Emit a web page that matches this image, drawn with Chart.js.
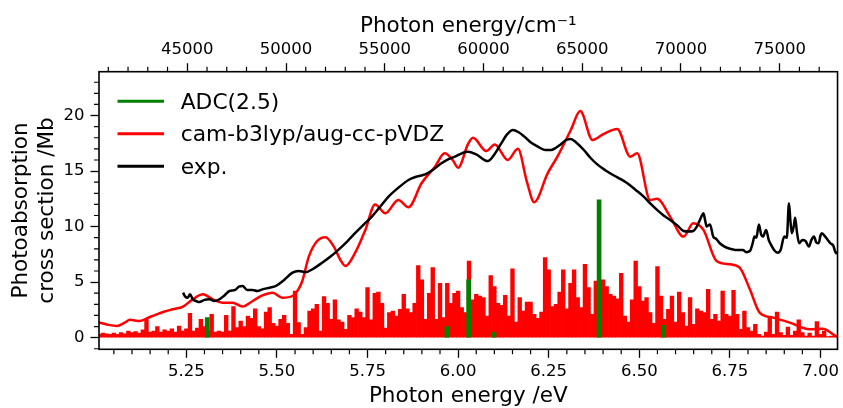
<!DOCTYPE html>
<html>
<head>
<meta charset="utf-8">
<script src="https://cdn.jsdelivr.net/npm/chart.js@4.4.1/dist/chart.umd.min.js"></script>
<style>
  html, body { margin: 0; padding: 0; background: #fff; }
</style>
</head>
<body>
<canvas id="spectrum" width="843" height="408"></canvas>
<script>
// stick spectrum (cam-b3lyp), every 0.01 eV
const stickEnergy = [
  5.01, 5.02, 5.03, 5.04, 5.05, 5.06, 5.07, 5.08, 5.09, 5.10,
  5.11, 5.12, 5.13, 5.14, 5.15, 5.16, 5.17, 5.18, 5.19, 5.20,
  5.21, 5.22, 5.23, 5.24, 5.25, 5.26, 5.27, 5.28, 5.29, 5.30,
  5.31, 5.32, 5.33, 5.34, 5.35, 5.36, 5.37, 5.38, 5.39, 5.40,
  5.41, 5.42, 5.43, 5.44, 5.45, 5.46, 5.47, 5.48, 5.49, 5.50,
  5.51, 5.52, 5.53, 5.54, 5.55, 5.56, 5.57, 5.58, 5.59, 5.60,
  5.61, 5.62, 5.63, 5.64, 5.65, 5.66, 5.67, 5.68, 5.69, 5.70,
  5.71, 5.72, 5.73, 5.74, 5.75, 5.76, 5.77, 5.78, 5.79, 5.80,
  5.81, 5.82, 5.83, 5.84, 5.85, 5.86, 5.87, 5.88, 5.89, 5.90,
  5.91, 5.92, 5.93, 5.94, 5.95, 5.96, 5.97, 5.98, 5.99, 6.00,
  6.01, 6.02, 6.03, 6.04, 6.05, 6.06, 6.07, 6.08, 6.09, 6.10,
  6.11, 6.12, 6.13, 6.14, 6.15, 6.16, 6.17, 6.18, 6.19, 6.20,
  6.21, 6.22, 6.23, 6.24, 6.25, 6.26, 6.27, 6.28, 6.29, 6.30,
  6.31, 6.32, 6.33, 6.34, 6.35, 6.36, 6.37, 6.38, 6.39, 6.40,
  6.41, 6.42, 6.43, 6.44, 6.45, 6.46, 6.47, 6.48, 6.49, 6.50,
  6.51, 6.52, 6.53, 6.54, 6.55, 6.56, 6.57, 6.58, 6.59, 6.60,
  6.61, 6.62, 6.63, 6.64, 6.65, 6.66, 6.67, 6.68, 6.69, 6.70,
  6.71, 6.72, 6.73, 6.74, 6.75, 6.76, 6.77, 6.78, 6.79, 6.80,
  6.81, 6.82, 6.83, 6.84, 6.85, 6.86, 6.87, 6.88, 6.89, 6.90,
  6.91, 6.92, 6.93, 6.94, 6.95, 6.96, 6.97, 6.98, 6.99, 7.00,
  7.01, 7.02, 7.03, 7.04
];
const stickHeight = [
  0.3, 0.4, 0.35, 0.3, 0.4, 0.3, 0.45, 0.35, 0.6, 0.45,
  0.55, 0.4, 0.7, 1.7, 0.5, 0.6, 1.0, 0.5, 0.7, 0.6,
  0.8, 0.5, 1.05, 0.6, 0.8, 2.2, 0.6, 0.85, 1.65, 1.0,
  0.6, 2.1, 0.5, 0.6, 0.5, 2.0, 0.6, 2.8, 0.9, 1.5,
  1.0, 1.95, 1.75, 2.6, 1.0, 0.8, 2.3, 2.7, 1.3, 1.05,
  1.65, 2.0, 1.3, 0.3, 4.2, 1.35, 0.3, 0.9, 2.4, 2.6,
  3.0, 0.6, 3.7, 3.1, 1.65, 3.4, 1.6, 1.4, 0.75, 2.0,
  1.8, 2.6, 2.3, 1.8, 4.5, 1.6, 4.0, 4.1, 3.1, 0.85,
  2.25, 2.4, 1.95, 2.55, 3.9, 2.6, 2.25, 3.1, 6.5, 5.2,
  1.65, 4.0, 6.3, 1.65, 4.9, 1.8, 4.9, 3.1, 4.0, 4.2,
  2.7, 2.25, 6.9, 3.4, 3.9, 3.75, 3.6, 1.95, 5.6, 4.6,
  3.1, 2.9, 3.8, 1.95, 6.2, 1.4, 3.6, 2.4, 3.2, 3.2,
  2.1, 1.75, 2.3, 7.2, 6.1, 2.8, 3.0, 4.1, 6.1, 2.6,
  4.9, 6.1, 3.6, 2.7, 6.6, 4.5, 2.1, 5.1, 4.9, 5.2,
  4.6, 3.9, 3.75, 3.5, 5.8, 1.95, 1.4, 3.4, 6.9, 4.6,
  3.3, 3.6, 2.25, 1.3, 6.4, 3.75, 1.65, 2.55, 3.75, 1.4,
  4.1, 2.25, 1.05, 3.6, 1.2, 2.6, 2.4, 2.25, 4.35, 1.65,
  2.1, 1.5, 4.2, 2.1, 1.95, 4.25, 2.1, 0.75, 2.4, 0.9,
  0.6, 1.2, 0.3, 0.15, 0.5, 1.85, 0.3, 2.3, 0.45, 0.2,
  0.95, 0.2, 0.6, 1.6, 0.45, 0.15, 0.4, 0.15, 1.45, 0.3,
  0.6, 0.1, 0.15, 0.2
];

// ADC(2.5) states
const adcEnergy = [5.308, 5.969, 6.029, 6.099, 6.389, 6.567];
const adcHeight = [1.8, 1.0, 5.2, 0.45, 12.4, 1.1];

// broadened cam-b3lyp/aug-cc-pVDZ spectrum
const theoryEnergy = [
  5.0, 5.012, 5.035, 5.058, 5.08, 5.094, 5.122, 5.145, 5.168, 5.19,
  5.213, 5.241, 5.268, 5.296, 5.323, 5.35, 5.378, 5.405, 5.433, 5.46,
  5.488, 5.515, 5.543, 5.56, 5.57, 5.588, 5.611, 5.634, 5.657, 5.675,
  5.689, 5.716, 5.744, 5.771, 5.799, 5.835, 5.863, 5.899, 5.936, 5.963,
  5.985, 6.0, 6.027, 6.041, 6.078, 6.101, 6.137, 6.165, 6.19, 6.21,
  6.247, 6.274, 6.311, 6.337, 6.371, 6.402, 6.439, 6.475, 6.494, 6.53,
  6.549, 6.585, 6.622, 6.649, 6.677, 6.713, 6.75, 6.777, 6.805, 6.832,
  6.869, 6.915, 6.97, 7.006, 7.043, 7.06
];
const theoryValue = [
  1.4, 1.35, 1.15, 1.05, 1.35, 1.6, 1.5, 1.8, 2.1, 2.35,
  2.55, 2.8, 3.45, 3.9, 3.45, 3.15, 3.15, 2.8, 3.3, 3.8,
  4.05, 3.6, 3.75, 4.4, 5.1, 7.3, 8.7, 9.05, 8.2, 7.0,
  6.45, 7.65, 9.7, 12.0, 11.2, 12.4, 11.75, 13.9, 15.4, 16.6,
  16.0, 15.3, 17.4, 18.0, 16.8, 17.4, 16.0, 17.0, 14.0, 12.2,
  14.8, 16.3, 18.7, 20.4, 17.8, 18.35, 18.8, 16.3, 16.6, 12.4,
  12.5, 10.9, 9.1, 10.3, 9.7, 6.9, 6.6, 6.3, 4.35, 2.25,
  1.8, 1.35, 0.75, 0.8, 0.15, 0.0
];

// experiment
const expEnergy = [
  5.241, 5.247, 5.254, 5.26, 5.268, 5.277, 5.286, 5.3, 5.314, 5.327,
  5.341, 5.355, 5.369, 5.385, 5.395, 5.405, 5.418, 5.433, 5.446, 5.46,
  5.48, 5.497, 5.52, 5.543, 5.56, 5.579, 5.6, 5.625, 5.648, 5.671,
  5.695, 5.717, 5.74, 5.762, 5.785, 5.808, 5.835, 5.863, 5.885, 5.909,
  5.93, 5.954, 5.975, 5.991, 6.01, 6.027, 6.05, 6.082, 6.1, 6.119,
  6.135, 6.151, 6.167, 6.183, 6.2, 6.22, 6.24, 6.256, 6.27, 6.283,
  6.298, 6.311, 6.325, 6.347, 6.365, 6.384, 6.405, 6.43, 6.45, 6.467,
  6.49, 6.512, 6.53, 6.549, 6.567, 6.585, 6.605, 6.622, 6.635, 6.649,
  6.657, 6.663, 6.67, 6.677, 6.682, 6.686, 6.695, 6.704, 6.712, 6.722,
  6.735, 6.75, 6.765, 6.786, 6.795, 6.805, 6.812, 6.818, 6.823, 6.83,
  6.836, 6.841, 6.85, 6.857, 6.863, 6.872, 6.881, 6.89, 6.9, 6.907,
  6.913, 6.917, 6.921, 6.926, 6.93, 6.935, 6.941, 6.95, 6.959, 6.968,
  6.975, 6.982, 6.988, 6.995, 7.0, 7.004, 7.013, 7.02, 7.027, 7.035,
  7.043, 7.05
];
const expValue = [
  4.05, 3.7, 3.6, 3.9, 3.45, 3.3, 3.2, 3.4, 3.45, 3.3,
  3.45, 3.8, 4.2, 4.3, 4.6, 4.65, 4.3, 4.3, 4.2, 4.35,
  4.5, 4.65, 5.2, 5.85, 6.0, 5.9, 6.2, 6.75, 7.3, 7.95,
  8.7, 9.45, 10.2, 10.9, 11.8, 12.7, 13.5, 14.2, 14.5, 14.7,
  15.1, 15.7, 16.1, 16.3, 16.6, 16.75, 16.5, 15.9, 16.5, 17.5,
  18.3, 18.7, 18.5, 18.1, 17.6, 17.2, 16.9, 16.9, 17.1, 17.4,
  17.8, 17.9, 17.6, 16.9, 16.2, 15.6, 15.1, 14.6, 14.25, 13.9,
  13.3, 12.7, 12.1, 11.5, 11.0, 10.6, 10.1, 9.6, 9.55, 9.6,
  9.9, 10.3, 10.8, 11.2, 10.5, 10.0, 10.2, 9.1, 8.9, 8.5,
  8.2, 8.0, 7.9, 7.9, 7.7, 7.8, 8.4, 9.1, 9.0, 10.2,
  9.3, 9.1, 9.7, 8.8, 8.4, 7.9, 7.65, 7.9, 9.1, 9.0,
  12.1, 10.5, 9.4, 10.0, 10.8, 9.5, 8.5, 8.8, 8.7, 8.2,
  8.8, 9.1, 8.6, 8.5, 9.2, 9.4, 9.1, 8.8, 8.5, 8.3,
  7.6, 7.8
];

// tick labels
const eVTicks = [5.25, 5.50, 5.75, 6.00, 6.25, 6.50, 6.75, 7.00];
const waveTicks = [45000, 50000, 55000, 60000, 65000, 70000, 75000];
const sigmaTicks = [0, 5, 10, 15, 20];

const pts = (xs, ys) => xs.map((x, i) => ({ x: x, y: ys[i] }));
const FONT = '"DejaVu Sans", "Liberation Sans", sans-serif';
Chart.defaults.font.family = FONT;
Chart.defaults.color = '#000';

// minor ticks, box frame and the in-plot legend
const extras = {
  id: 'extras',
  afterDraw(chart) {
    const { ctx, chartArea: a, scales } = chart;
    const minor = 5;
    ctx.save();
    ctx.strokeStyle = '#000';
    ctx.lineWidth = 1.2;
    ctx.beginPath();
    for (let i = 101; i <= 140; i++) {
      if (i % 5 === 0) continue;
      const px = scales.x.getPixelForValue(i * 0.05);
      ctx.moveTo(px, a.bottom); ctx.lineTo(px, a.bottom + minor);
    }
    for (let i = 41; i <= 77; i++) {
      if (i % 5 === 0) continue;
      const px = scales.x2.getPixelForValue(i * 1000);
      ctx.moveTo(px, a.top); ctx.lineTo(px, a.top - minor);
    }
    for (let i = -1; i <= 23; i++) {
      if (i % 5 === 0) continue;
      const py = scales.y.getPixelForValue(i);
      ctx.moveTo(a.left, py); ctx.lineTo(a.left - minor, py);
    }
    ctx.stroke();

    ctx.lineWidth = 1.6;
    ctx.strokeRect(a.left, a.top, a.right - a.left, a.bottom - a.top);

    const rows = chart.data.datasets.filter(d => d.label);
    ctx.font = '21.8px ' + FONT;
    ctx.textBaseline = 'middle';
    ctx.textAlign = 'left';
    rows.forEach((d, i) => {
      const y = a.top + 29.5 + i * 32.5;
      ctx.strokeStyle = d.type === 'bar' ? d.backgroundColor : d.borderColor;
      ctx.lineWidth = 3;
      ctx.beginPath();
      ctx.moveTo(a.left + 18.5, y);
      ctx.lineTo(a.left + 65, y);
      ctx.stroke();
      ctx.fillStyle = '#000';
      ctx.fillText(d.label, a.left + 81.7, y + 1.7);
    });
    ctx.restore();
  }
};

new Chart(document.getElementById('spectrum'), {
  type: 'line',
  data: {
    datasets: [
      {
        type: 'bar',
        label: 'ADC(2.5)',
        data: pts(adcEnergy, adcHeight),
        backgroundColor: '#008000',
        borderWidth: 0,
        barThickness: 4,
        grouped: false,
        xAxisID: 'x', yAxisID: 'y',
        order: 3
      },
      {
        label: 'cam-b3lyp/aug-cc-pVDZ',
        data: pts(theoryEnergy, theoryValue),
        borderColor: '#ff0000',
        borderWidth: 2.5,
        pointRadius: 0,
        fill: false,
        cubicInterpolationMode: 'monotone',
        xAxisID: 'x', yAxisID: 'y',
        order: 2
      },
      {
        label: 'exp.',
        data: pts(expEnergy, expValue),
        borderColor: '#000000',
        borderWidth: 2.5,
        pointRadius: 0,
        fill: false,
        cubicInterpolationMode: 'monotone',
        xAxisID: 'x', yAxisID: 'y',
        order: 1
      },
      {
        type: 'bar',
        label: '',
        data: pts(stickEnergy, stickHeight),
        backgroundColor: '#ff0000',
        borderWidth: 0,
        barThickness: 3.7,
        grouped: false,
        xAxisID: 'x', yAxisID: 'y',
        order: 4
      }
    ]
  },
  options: {
    responsive: false,
    animation: false,
    devicePixelRatio: 1,
    events: [],
    layout: { padding: { left: 0, right: 2, top: 0, bottom: 0 } },
    plugins: {
      legend: { display: false },
      tooltip: { enabled: false }
    },
    scales: {
      x: {
        type: 'linear',
        position: 'bottom',
        min: 5.009,
        max: 7.047,
        offset: false,
        afterBuildTicks: s => { s.ticks = eVTicks.map(v => ({ value: v })); },
        afterFit: s => { s.height = 58.7; },
        ticks: {
          callback: v => Number(v).toFixed(2),
          font: { size: 16.5 },
          padding: 4,
          maxRotation: 0,
          autoSkip: false
        },
        grid: { drawOnChartArea: false, drawTicks: true, tickLength: 8.5, tickWidth: 1.3, tickColor: '#000', offset: false },
        border: { display: false },
        title: {
          display: true,
          text: 'Photon energy /eV',
          font: { size: 21.5, lineHeight: 1 },
          padding: { top: 0, bottom: 1.25 }
        }
      },
      x2: {
        type: 'linear',
        position: 'top',
        min: 40530,
        max: 77930,
        offset: false,
        afterBuildTicks: s => { s.ticks = waveTicks.map(v => ({ value: v })); },
        afterFit: s => { s.height = 71.7; },
        ticks: {
          callback: v => String(v),
          font: { size: 16.5 },
          padding: 3.3,
          maxRotation: 0,
          autoSkip: false
        },
        grid: { drawOnChartArea: false, drawTicks: true, tickLength: 8.5, tickWidth: 1.3, tickColor: '#000' },
        border: { display: false },
        title: {
          display: true,
          text: 'Photon energy/cm\u207B\u00B9',
          font: { size: 21.5, lineHeight: 1 },
          padding: { top: 15.25, bottom: 0 }
        }
      },
      y: {
        type: 'linear',
        position: 'left',
        min: -1.05,
        max: 23.95,
        afterBuildTicks: s => { s.ticks = sigmaTicks.map(v => ({ value: v })); },
        afterFit: s => { s.width = 99; },
        ticks: {
          callback: v => String(v),
          font: { size: 16.5 },
          padding: 6
        },
        grid: { drawOnChartArea: false, drawTicks: true, tickLength: 8.5, tickWidth: 1.3, tickColor: '#000' },
        border: { display: false },
        title: {
          display: true,
          text: ['Photoabsorption', 'cross section /Mb'],
          font: { size: 21.5, lineHeight: 1.2 },
          padding: { top: 8.6, bottom: 0 }
        }
      }
    }
  },
  plugins: [extras]
});
</script>
</body>
</html>
